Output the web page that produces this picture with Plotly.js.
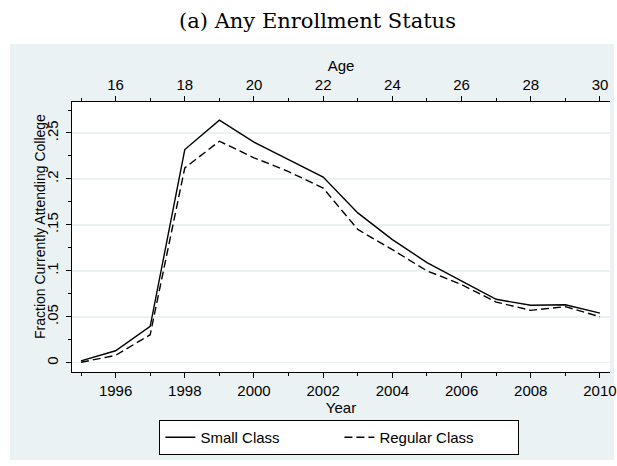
<!DOCTYPE html>
<html>
<head>
<meta charset="utf-8">
<script src="https://cdn.plot.ly/plotly-3.0.1.min.js"></script>
<style>html,body{margin:0;padding:0;background:#fff;}#chart{width:617px;height:466px;}</style>
</head>
<body>
<div id="chart"></div>
<script>
// Data
const years = [1995, 1996, 1997, 1998, 1999, 2000, 2001, 2002, 2003, 2004, 2005, 2006, 2007, 2008, 2009, 2010];
const ages = [15, 16, 17, 18, 19, 20, 21, 22, 23, 24, 25, 26, 27, 28, 29, 30];
const smallClass = [0.002, 0.013, 0.0395, 0.232, 0.264, 0.240, 0.221, 0.202, 0.163, 0.134, 0.109, 0.089, 0.069, 0.0625, 0.063, 0.054];
const regularClass = [0.0005, 0.008, 0.0305, 0.212, 0.241, 0.223, 0.208, 0.190, 0.145, 0.123, 0.100, 0.085, 0.066, 0.057, 0.061, 0.050];
const yTickVals = [0, 0.05, 0.1, 0.15, 0.2, 0.25];
const yTickText = ["0", ".05", ".1", ".15", ".2", ".25"];
const seriesNames = ["Small Class", "Regular Class"];

const BG = '#EAF2F3';
const FONT = 'Liberation Sans, Arial, sans-serif';

const traces = [
  {x: years, y: smallClass, type: 'scatter', mode: 'lines', name: seriesNames[0],
   line: {color: '#000', width: 1.4}, xaxis: 'x', yaxis: 'y'},
  {x: years, y: regularClass, type: 'scatter', mode: 'lines', name: seriesNames[1],
   line: {color: '#000', width: 1.4, dash: '8px,4px'}, xaxis: 'x', yaxis: 'y'},
  {x: ages, y: smallClass, type: 'scatter', mode: 'lines', showlegend: false, hoverinfo: 'skip',
   line: {color: 'rgba(0,0,0,0)', width: 0}, xaxis: 'x2', yaxis: 'y'}
];

const axCommon = {
  showline: true, linecolor: '#000', linewidth: 1, mirror: false,
  ticks: 'outside', ticklen: 5, tickwidth: 1, tickcolor: '#000',
  showgrid: false, zeroline: false,
  tickfont: {family: FONT, size: 15, color: '#000'}
};

const layout = {
  width: 617, height: 466,
  margin: {l: 72, r: 7, t: 102, b: 94},
  paper_bgcolor: '#fff', plot_bgcolor: '#fff',
  font: {family: FONT, color: '#000'},
  title: {text: '(a) Any Enrollment Status', x: 0.5146, xanchor: 'center', y: 0.955, yanchor: 'middle',
          font: {family: 'DejaVu Serif, Liberation Serif, serif', size: 21, color: '#000'}},
  xaxis: Object.assign({}, axCommon, {
    range: [1994.74, 2010.29], tick0: 1996, dtick: 2,
    minor: {ticks: 'outside', ticklen: 3, tickcolor: '#000', tick0: 1995, dtick: 1, showgrid: false},
    title: {text: 'Year', standoff: 0, font: {family: FONT, size: 15, color: '#000'}}
  }),
  xaxis2: Object.assign({}, axCommon, {
    overlaying: 'x', side: 'top', anchor: 'y',
    range: [14.74, 30.29], tick0: 16, dtick: 2,
    minor: {ticks: 'outside', ticklen: 3, tickcolor: '#000', tick0: 15, dtick: 1, showgrid: false},
    title: {text: 'Age', standoff: 0, font: {family: FONT, size: 15, color: '#000'}}
  }),
  yaxis: Object.assign({}, axCommon, {
    range: [-0.0101, 0.2837],
    tickmode: 'array', tickvals: yTickVals, ticktext: yTickText, tickangle: -90,
    ticklabelstandoff: 2,
    showgrid: true, gridcolor: BG, gridwidth: 1.5,
    minor: {ticks: 'outside', ticklen: 3, tickcolor: '#000', tick0: 0, dtick: 0.025, showgrid: false}
  }),
  annotations: [
    {text: 'Fraction Currently Attending College', xref: 'paper', yref: 'paper',
     x: -0.0595, y: 0.5407, xanchor: 'center', yanchor: 'middle', textangle: -90, showarrow: false,
     font: {family: FONT, size: 14, color: '#000'}}
  ],
  legend: {
    orientation: 'h', x: 0.497, xanchor: 'center', y: -0.178, yanchor: 'top',
    bordercolor: '#000', borderwidth: 1, bgcolor: '#fff',
    font: {family: FONT, size: 15, color: '#000'},
    entrywidth: 134
  },
  shapes: [
    {type: 'rect', xref: 'paper', yref: 'paper', x0: -0.1152, x1: 1.0074, y0: -0.3259, y1: 1.2148,
     fillcolor: BG, line: {width: 0}, layer: 'below'},
    {type: 'rect', xref: 'paper', yref: 'paper', x0: 0, x1: 1, y0: 0, y1: 1,
     fillcolor: '#fff', line: {width: 0}, layer: 'below'}
  ],
  showlegend: true
};

Plotly.newPlot('chart', traces, layout, {displayModeBar: false, staticPlot: true});
</script>
</body>
</html>
